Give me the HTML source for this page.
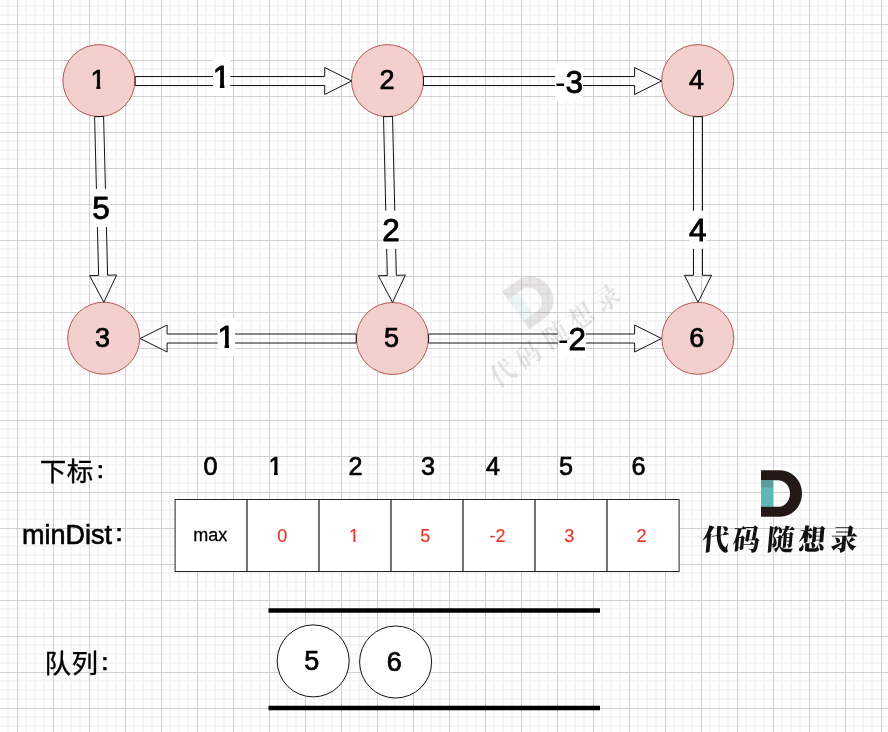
<!DOCTYPE html>
<html lang="zh"><head><meta charset="utf-8"><title>SPFA</title>
<style>
html,body{margin:0;padding:0;background:#fff;}
body{width:888px;height:732px;overflow:hidden;position:relative;}
svg{position:absolute;left:0;top:0;display:block;will-change:transform;}
text{font-family:"Liberation Sans","Noto Sans CJK SC",sans-serif;fill:#000;}
.cjk{font-family:"Liberation Sans","Noto Sans CJK SC",sans-serif;}
.brush{font-family:"Noto Serif CJK SC","Noto Sans CJK SC",serif;font-weight:900;}
</style></head><body>
<svg width="888" height="732" viewBox="0 0 888 732">
<defs>
<pattern id="grid" x="-18" y="-11" width="36" height="36" patternUnits="userSpaceOnUse">
<g fill="#f5f5f5">
<rect x="7" y="0" width="2" height="36"/><rect x="16" y="0" width="2" height="36"/><rect x="25" y="0" width="2" height="36"/>
<rect x="0" y="7" width="36" height="2"/><rect x="0" y="16" width="36" height="2"/><rect x="0" y="25" width="36" height="2"/>
</g>
<g fill="#f3f3f3">
<rect x="7" y="7" width="2" height="2"/><rect x="16" y="7" width="2" height="2"/><rect x="25" y="7" width="2" height="2"/>
<rect x="7" y="16" width="2" height="2"/><rect x="16" y="16" width="2" height="2"/><rect x="25" y="16" width="2" height="2"/>
<rect x="7" y="25" width="2" height="2"/><rect x="16" y="25" width="2" height="2"/><rect x="25" y="25" width="2" height="2"/>
</g>
<rect x="35" y="0" width="1" height="36" fill="#cfcfcf"/>
<rect x="0" y="35" width="36" height="1" fill="#cfcfcf"/>
</pattern>
<g id="logoD">
<path d="M0 0 H19 A22 23.3 0 0 1 19 46.6 H0 Z M12 10 V36.6 H17 A12 13.3 0 0 0 17 10 Z" fill="#231815" fill-rule="evenodd"/>
<rect x="0" y="10" width="12" height="26.6" fill="#62b6b7"/>
<rect x="0" y="10" width="12" height="7" fill="#5a9c9c"/>
</g>
</defs>
<rect x="0" y="0" width="888" height="732" fill="#fff"/>
<rect x="0" y="0" width="888" height="732" fill="url(#grid)"/>
<circle cx="98.9" cy="80.6" r="36" fill="#f3d0cd" stroke="#b5574f" stroke-width="1"/>
<clipPath id="c1"><rect x="70.90" y="61.60" width="54.00" height="23.62"/><rect x="96.42" y="61.60" width="3.91" height="27.36"/></clipPath>
<text x="97.90" y="88.60" font-size="27" text-anchor="middle" clip-path="url(#c1)" style="fill:#000;stroke:#000;stroke-width:0.73">1</text>
<circle cx="387.5" cy="80.6" r="36" fill="#f3d0cd" stroke="#b5574f" stroke-width="1"/>
<text x="386.90" y="88.60" font-size="27" text-anchor="middle" style="fill:#000;stroke:#000;stroke-width:0.73">2</text>
<circle cx="697.7" cy="80.6" r="36" fill="#f3d0cd" stroke="#b5574f" stroke-width="1"/>
<text x="696.40" y="88.60" font-size="27" text-anchor="middle" style="fill:#000;stroke:#000;stroke-width:0.73">4</text>
<circle cx="103.7" cy="338.2" r="36" fill="#f3d0cd" stroke="#b5574f" stroke-width="1"/>
<text x="102.40" y="347.40" font-size="27" text-anchor="middle" style="fill:#000;stroke:#000;stroke-width:0.73">3</text>
<circle cx="392.4" cy="338.5" r="36" fill="#f3d0cd" stroke="#b5574f" stroke-width="1"/>
<text x="391.50" y="347.40" font-size="27" text-anchor="middle" style="fill:#000;stroke:#000;stroke-width:0.73">5</text>
<circle cx="697.8" cy="338.3" r="36" fill="#f3d0cd" stroke="#b5574f" stroke-width="1"/>
<text x="696.70" y="347.40" font-size="27" text-anchor="middle" style="fill:#000;stroke:#000;stroke-width:0.73">6</text>
<path d="M135.20 85.50 L324.70 85.50 L324.70 94.50 L351.70 81.00 L324.70 67.50 L324.70 76.50 L135.20 76.50 Z" fill="none" stroke="#151515" stroke-width="1" stroke-linejoin="miter"/>
<path d="M423.50 85.50 L634.60 85.50 L634.60 94.50 L661.60 81.00 L634.60 67.50 L634.60 76.50 L423.50 76.50 Z" fill="none" stroke="#151515" stroke-width="1" stroke-linejoin="miter"/>
<path d="M94.60 116.71 L98.62 275.42 L89.62 275.65 L103.80 302.30 L116.61 274.97 L107.62 275.19 L103.60 116.49 Z" fill="none" stroke="#151515" stroke-width="1" stroke-linejoin="miter"/>
<path d="M383.50 116.71 L387.35 275.52 L378.35 275.73 L392.50 302.40 L405.34 275.08 L396.34 275.30 L392.50 116.49 Z" fill="none" stroke="#151515" stroke-width="1" stroke-linejoin="miter"/>
<path d="M693.50 116.70 L693.50 275.30 L684.50 275.30 L698.00 302.30 L711.50 275.30 L702.50 275.30 L702.50 116.70 Z" fill="none" stroke="#151515" stroke-width="1" stroke-linejoin="miter"/>
<path d="M356.20 334.00 L167.10 334.00 L167.10 325.00 L140.10 338.50 L167.10 352.00 L167.10 343.00 L356.20 343.00 Z" fill="none" stroke="#151515" stroke-width="1" stroke-linejoin="miter"/>
<path d="M428.60 343.00 L634.60 343.00 L634.60 352.00 L661.60 338.50 L634.60 325.00 L634.60 334.00 L428.60 334.00 Z" fill="none" stroke="#151515" stroke-width="1" stroke-linejoin="miter"/>
<rect x="212.95" y="57.65" width="17.3" height="38.2" fill="#fff"/>
<clipPath id="c2"><rect x="190.10" y="56.10" width="63.00" height="27.72"/><rect x="219.94" y="56.10" width="4.43" height="31.93"/></clipPath>
<text x="221.60" y="87.60" font-size="31.5" text-anchor="middle" clip-path="url(#c2)" style="fill:#000;stroke:#000;stroke-width:0.85">1</text>
<rect x="555.10" y="62.90" width="28.0" height="38.2" fill="#fff"/>
<text x="569.10" y="92.85" font-size="31.5" text-anchor="middle" style="fill:#000;stroke:#000;stroke-width:0.85"><tspan style="stroke-width:0">-</tspan>3</text>
<rect x="92.40" y="188.85" width="17.4" height="38.2" fill="#fff"/>
<text x="101.10" y="218.80" font-size="31.5" text-anchor="middle" style="fill:#000;stroke:#000;stroke-width:0.85">5</text>
<rect x="382.40" y="210.60" width="17.4" height="38.2" fill="#fff"/>
<text x="391.10" y="240.55" font-size="31.5" text-anchor="middle" style="fill:#000;stroke:#000;stroke-width:0.85">2</text>
<rect x="689.10" y="210.60" width="17.3" height="38.2" fill="#fff"/>
<text x="697.75" y="240.55" font-size="31.5" text-anchor="middle" style="fill:#000;stroke:#000;stroke-width:0.85">4</text>
<rect x="217.65" y="317.65" width="17.3" height="38.2" fill="#fff"/>
<clipPath id="c3"><rect x="194.80" y="316.10" width="63.00" height="27.72"/><rect x="224.64" y="316.10" width="4.43" height="31.93"/></clipPath>
<text x="226.30" y="347.60" font-size="31.5" text-anchor="middle" clip-path="url(#c3)" style="fill:#000;stroke:#000;stroke-width:0.85">1</text>
<rect x="557.90" y="319.55" width="28.0" height="38.2" fill="#fff"/>
<text x="571.90" y="349.50" font-size="31.5" text-anchor="middle" style="fill:#000;stroke:#000;stroke-width:0.85"><tspan style="stroke-width:0">-</tspan>2</text>
<g opacity="0.11" transform="translate(502,291.5) rotate(-35.7)"><use href="#logoD"/></g>
<g opacity="0.105" transform="translate(502,291.5) rotate(-35.7)"><text class="brush" x="-47.6 -17 17.2 48.6 80.6" y="0" font-size="25" text-anchor="middle" transform="translate(0,76.4) skewX(-5) scale(1,1.05)" style="fill:#111;font-weight:700">代码随想录</text></g>
<text class="cjk" x="39.7" y="481.15" font-size="26.5" letter-spacing="0.5" style="stroke:#000;stroke-width:0.35">下标</text>
<text x="87.70" y="477.55" font-size="25.2" style="font-family:'WenQuanYi Zen Hei','Noto Sans CJK SC',sans-serif;stroke:#000;stroke-width:0.5">：</text>
<text x="22.1" y="543.5" font-size="27" style="stroke:#000;stroke-width:0.6">minDist</text>
<text x="106.60" y="540.80" font-size="25.2" style="font-family:'WenQuanYi Zen Hei','Noto Sans CJK SC',sans-serif;stroke:#000;stroke-width:0.5">：</text>
<text class="cjk" x="44.55" y="673.25" font-size="26.5" letter-spacing="0.5" style="stroke:#000;stroke-width:0.35">队列</text>
<text x="92.20" y="669.60" font-size="25.2" style="font-family:'WenQuanYi Zen Hei','Noto Sans CJK SC',sans-serif;stroke:#000;stroke-width:0.5">：</text>
<text x="210.60" y="475.00" font-size="25.2" text-anchor="middle" style="fill:#000;stroke:#000;stroke-width:0.68">0</text>
<clipPath id="c4"><rect x="250.20" y="449.80" width="50.40" height="21.98"/><rect x="273.99" y="449.80" width="3.71" height="25.54"/></clipPath>
<text x="275.40" y="475.00" font-size="25.2" text-anchor="middle" clip-path="url(#c4)" style="fill:#000;stroke:#000;stroke-width:0.68">1</text>
<text x="355.60" y="475.00" font-size="25.2" text-anchor="middle" style="fill:#000;stroke:#000;stroke-width:0.68">2</text>
<text x="428.10" y="475.00" font-size="25.2" text-anchor="middle" style="fill:#000;stroke:#000;stroke-width:0.68">3</text>
<text x="493.10" y="475.00" font-size="25.2" text-anchor="middle" style="fill:#000;stroke:#000;stroke-width:0.68">4</text>
<text x="566.00" y="475.00" font-size="25.2" text-anchor="middle" style="fill:#000;stroke:#000;stroke-width:0.68">5</text>
<text x="638.50" y="475.00" font-size="25.2" text-anchor="middle" style="fill:#000;stroke:#000;stroke-width:0.68">6</text>
<rect x="175.1" y="499.5" width="72" height="72" fill="#fff" stroke="#222" stroke-width="1"/>
<rect x="247.1" y="499.5" width="72" height="72" fill="#fff" stroke="#222" stroke-width="1"/>
<rect x="319.1" y="499.5" width="72" height="72" fill="#fff" stroke="#222" stroke-width="1"/>
<rect x="391.1" y="499.5" width="72" height="72" fill="#fff" stroke="#222" stroke-width="1"/>
<rect x="463.1" y="499.5" width="72" height="72" fill="#fff" stroke="#222" stroke-width="1"/>
<rect x="535.1" y="499.5" width="72" height="72" fill="#fff" stroke="#222" stroke-width="1"/>
<rect x="607.1" y="499.5" width="72" height="72" fill="#fff" stroke="#222" stroke-width="1"/>
<text x="210.30" y="541.00" font-size="18" text-anchor="middle" style="fill:#000;stroke:#000;stroke-width:0.3">max</text>
<text x="282.30" y="541.60" font-size="18" text-anchor="middle" style="fill:#ea3323;stroke:#ea3323;stroke-width:0.15">0</text>
<clipPath id="c5"><rect x="336.00" y="523.60" width="36.00" height="15.58"/><rect x="353.05" y="523.60" width="2.54" height="18.07"/></clipPath>
<text x="354.00" y="541.60" font-size="18" text-anchor="middle" clip-path="url(#c5)" style="fill:#ea3323;stroke:#ea3323;stroke-width:0.15">1</text>
<text x="425.20" y="541.60" font-size="18" text-anchor="middle" style="fill:#ea3323;stroke:#ea3323;stroke-width:0.15">5</text>
<text x="497.60" y="541.60" font-size="18" text-anchor="middle" style="fill:#ea3323;stroke:#ea3323;stroke-width:0.15"><tspan style="stroke-width:0">-</tspan>2</text>
<text x="569.20" y="541.60" font-size="18" text-anchor="middle" style="fill:#ea3323;stroke:#ea3323;stroke-width:0.15">3</text>
<text x="641.60" y="541.60" font-size="18" text-anchor="middle" style="fill:#ea3323;stroke:#ea3323;stroke-width:0.15">2</text>
<line x1="268.5" y1="610.5" x2="600" y2="610.5" stroke="#000" stroke-width="4.5"/>
<line x1="268.5" y1="708.1" x2="600" y2="708.1" stroke="#000" stroke-width="4.5"/>
<circle cx="313.2" cy="660.9" r="36" fill="#fff" stroke="#111" stroke-width="1"/>
<text x="311.80" y="669.67" font-size="27" text-anchor="middle" style="fill:#000;stroke:#000;stroke-width:0.73">5</text>
<circle cx="395.6" cy="662.0" r="36" fill="#fff" stroke="#111" stroke-width="1"/>
<text x="394.20" y="670.77" font-size="27" text-anchor="middle" style="fill:#000;stroke:#000;stroke-width:0.73">6</text>
<g transform="translate(761,470.2)"><use href="#logoD"/><text class="brush" x="-46 -15.4 18.8 50.2 82.2" y="0" font-size="27" text-anchor="middle" transform="translate(0,80.2) skewX(-5) scale(1,1.07)" style="fill:#111">代码随想录</text></g>
</svg></body></html>
